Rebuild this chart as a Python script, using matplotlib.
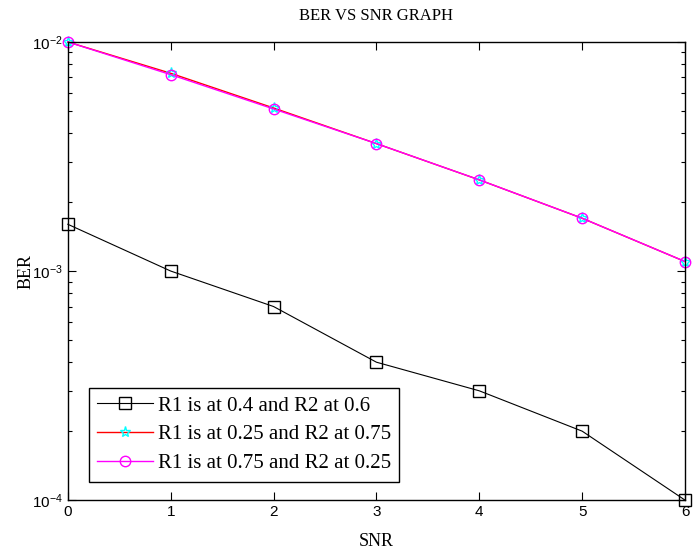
import matplotlib
matplotlib.use('Agg')
import matplotlib.pyplot as plt

# BER vs SNR values
snr = [0, 1, 2, 3, 4, 5, 6]
ber_04_06 = [1.6e-3, 1.0e-3, 7.0e-4, 4.0e-4, 3.0e-4, 2.0e-4, 1.0e-4]
ber_025_075 = [1.0e-2, 7.3e-3, 5.15e-3, 3.6e-3, 2.5e-3, 1.7e-3, 1.1e-3]
ber_075_025 = [1.0e-2, 7.2e-3, 5.1e-3, 3.6e-3, 2.5e-3, 1.7e-3, 1.1e-3]

labels = ['R1 is at 0.4 and R2 at 0.6',
          'R1 is at 0.25 and R2 at 0.75',
          'R1 is at 0.75 and R2 at 0.25']

serif = 'Liberation Serif'
sans = 'Liberation Sans'

fig = plt.figure(figsize=(6.99, 5.52), dpi=100)
ax = fig.add_axes([0.097, 0.094, 0.883, 0.830])

ax.semilogy(snr, ber_04_06, color='k', lw=0.8, marker='s', ms=9,
            mfc='none', mec='k', mew=1.0, label=labels[0], clip_on=False)
ax.semilogy(snr, ber_025_075, color='red', lw=1.0, marker='*', ms=8,
            mfc='none', mec='cyan', mew=1.0, label=labels[1], clip_on=False)
ax.semilogy(snr, ber_075_025, color='magenta', lw=1.0, marker='o', ms=7.5,
            mfc='none', mec='magenta', mew=1.0, label=labels[2], clip_on=False)

ax.set_xlim(0, 6)
ax.set_ylim(1e-4, 1e-2)
ax.set_xticks(snr)
ax.tick_params(which='both', direction='in', top=True, right=True)
ax.tick_params(which='major', length=6, labelsize=11, width=0.8)
ax.tick_params(which='minor', length=3, width=0.8)
for lbl in ax.get_xticklabels() + ax.get_yticklabels():
    lbl.set_fontfamily(sans)
for s in ax.spines.values():
    s.set_linewidth(1.0)

ax.set_title('BER VS SNR GRAPH', fontsize=12, family=serif, pad=16)
ax.set_xlabel('SNR', fontsize=13, family=serif, labelpad=10)
ax.set_ylabel('BER', fontsize=13, family=serif, labelpad=-2)

leg = ax.legend(loc='lower left', bbox_to_anchor=(0.034, 0.04),
                prop={'family': serif, 'size': 15}, fancybox=False,
                framealpha=1, edgecolor='k', borderpad=0.4,
                handlelength=2.7, handletextpad=0.2, labelspacing=0.45,
                borderaxespad=0)
leg.get_frame().set_linewidth(1.0)

fig.savefig('out.png', dpi=100)
